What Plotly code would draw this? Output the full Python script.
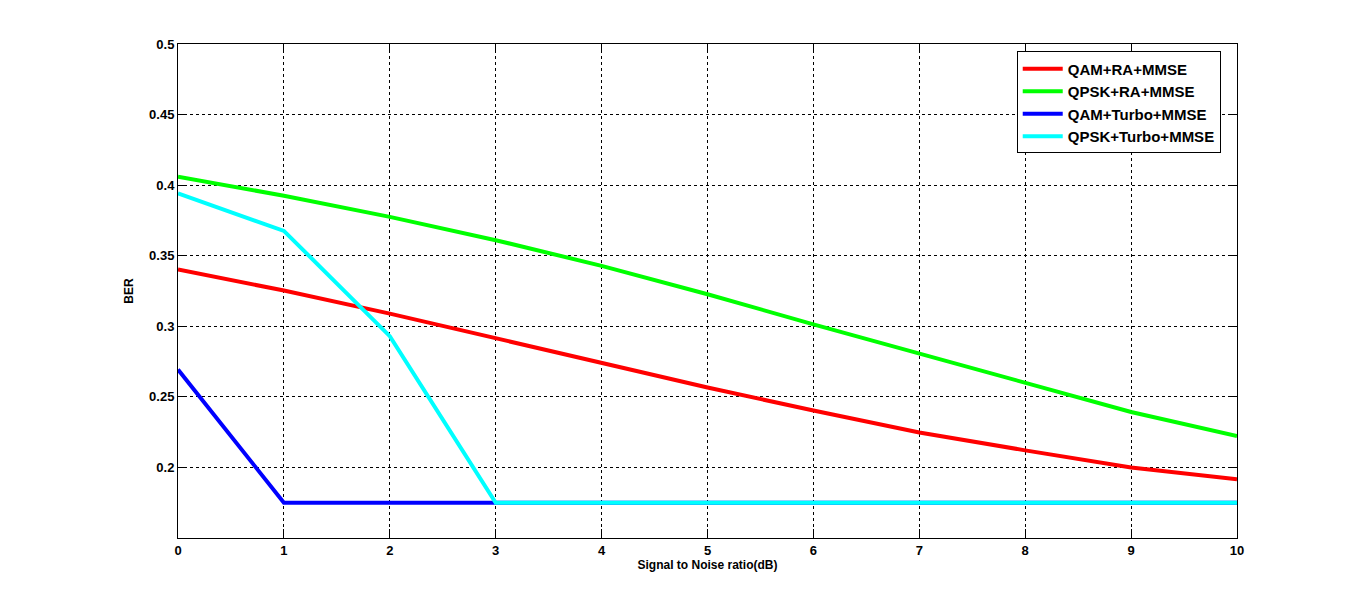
import plotly.graph_objects as go

snr = [0, 1, 2, 3, 4, 5, 6, 7, 8, 9, 10]
qam_ra = [0.3403, 0.3253, 0.3090, 0.2913, 0.2743, 0.2566, 0.2403, 0.2247, 0.2121, 0.2000, 0.1916]
qpsk_ra = [0.4059, 0.3925, 0.3775, 0.3610, 0.3428, 0.3227, 0.3014, 0.2807, 0.2594, 0.2393, 0.2223]
qam_turbo = [0.2694, 0.1750, 0.1750, 0.1750, 0.1750, 0.1750, 0.1750, 0.1750, 0.1750, 0.1750, 0.1750]
qpsk_turbo = [0.3941, 0.3676, 0.2930, 0.1750, 0.1750, 0.1750, 0.1750, 0.1750, 0.1750, 0.1750, 0.1750]

names = ["QAM+RA+MMSE", "QPSK+RA+MMSE", "QAM+Turbo+MMSE", "QPSK+Turbo+MMSE"]
colors = ["#ff0000", "#00ff00", "#0000ff", "#00ffff"]
series = [qam_ra, qpsk_ra, qam_turbo, qpsk_turbo]

fig = go.Figure()
for n, c, s in zip(names, colors, series):
    fig.add_trace(go.Scatter(x=snr, y=s, mode="lines", name=n,
                             line=dict(color=c, width=4)))

font_family = "Liberation Sans, Arial, sans-serif"
axis_common = dict(
    showline=True, linecolor="black", linewidth=1, mirror="allticks",
    ticks="inside", ticklen=9, tickcolor="black", tickwidth=1,
    showgrid=True, gridcolor="black", gridwidth=1, griddash="3px,3px",
    zeroline=False,
    tickfont=dict(family=font_family, size=13, color="black", weight="bold"),
)

fig.update_layout(
    width=1366, height=604,
    paper_bgcolor="white", plot_bgcolor="white",
    margin=dict(l=170, r=137, t=36, b=74),
    showlegend=True,
    legend=dict(
        x=0.792, y=0.985, xanchor="left", yanchor="top",
        bordercolor="black", borderwidth=1, bgcolor="white",
        font=dict(family=font_family, size=15, color="black", weight="bold"),
        itemwidth=40, tracegroupgap=0,
    ),
    xaxis=dict(range=[0, 10], tickvals=list(range(0, 11)),
               title=dict(text="Signal to Noise ratio(dB)", standoff=4,
                          font=dict(family=font_family, size=12, color="black", weight="bold")),
               **axis_common),
    yaxis=dict(range=[0.15, 0.5], tickvals=[0.2, 0.25, 0.3, 0.35, 0.4, 0.45, 0.5],
               ticktext=["0.2", "0.25", "0.3", "0.35", "0.4", "0.45", "0.5"],
               title=dict(text="BER", standoff=12,
                          font=dict(family=font_family, size=12, color="black", weight="bold")),
               **axis_common),
)

fig.write_html("out.html")
